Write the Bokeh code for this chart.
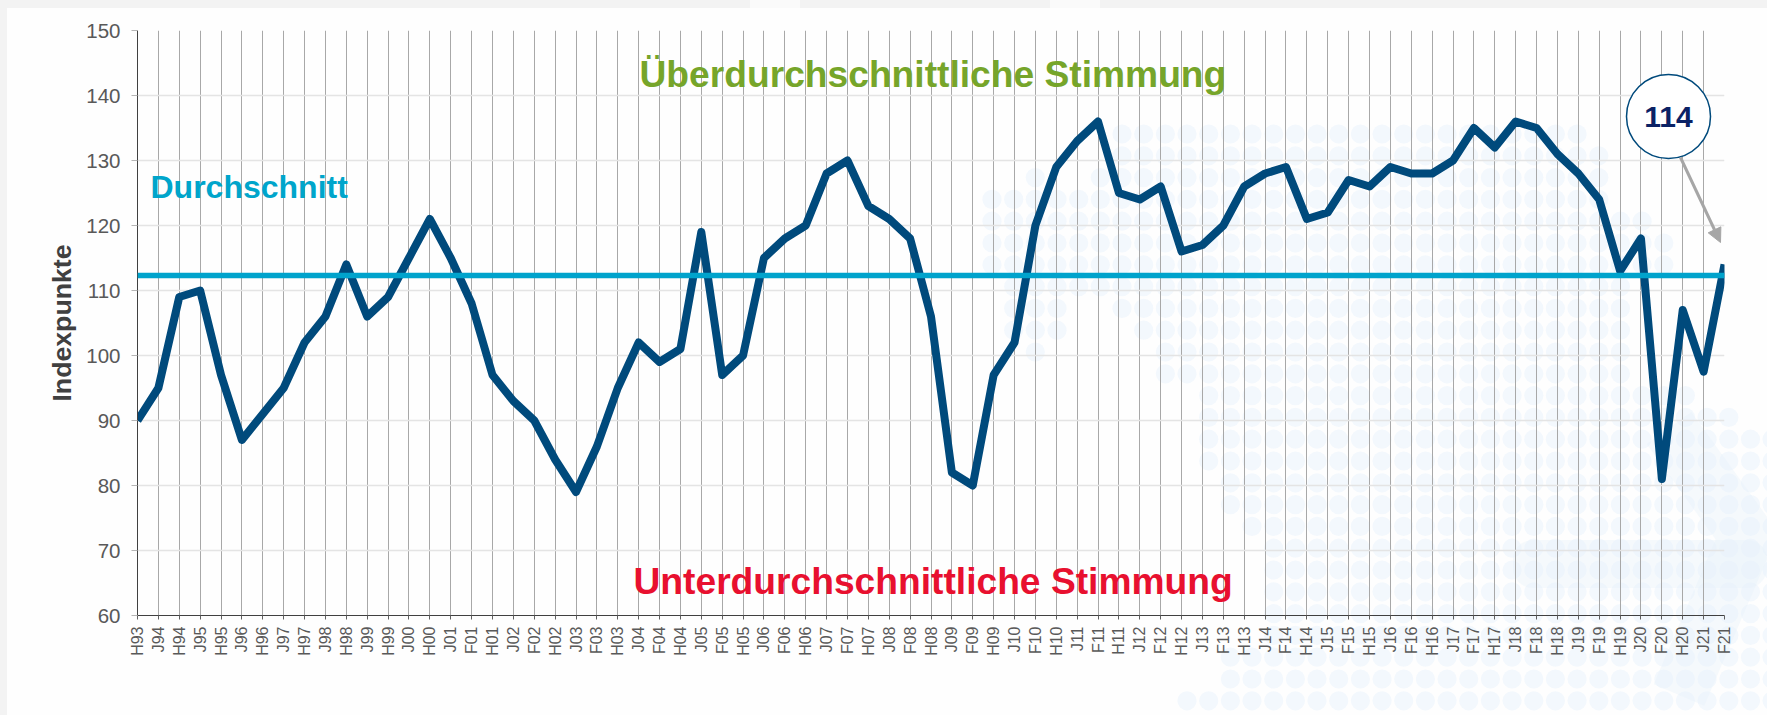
import base64
from bokeh.embed import file_html
from bokeh.models import Arrow, FixedTicker, Label, NormalHead, Range1d, Span
from bokeh.plotting import figure
from bokeh.resources import INLINE

periods = ["H93","J94","H94","J95","H95","J96","H96","J97","H97","J98","H98","J99","H99","J00","H00",
           "J01","F01","H01","J02","F02","H02","J03","F03","H03","J04","F04","H04","J05","F05","H05",
           "J06","F06","H06","J07","F07","H07","J08","F08","H08","J09","F09","H09","J10","F10","H10",
           "J11","F11","H11","J12","F12","H12","J13","F13","H13","J14","F14","H14","J15","F15","H15",
           "J16","F16","H16","J17","F17","H17","J18","F18","H18","J19","F19","H19","J20","F20","H20",
           "J21","F21"]
index_values = [90,95,109,110,97,87,91,95,102,106,114,106,109,115,121,
                115,108,97,93,90,84,79,86,95,102,99,101,119,97,100,
                115,118,120,128,130,123,121,118,106,82,80,97,102,120,129,
                133,136,125,124,126,116,117,120,126,128,129,121,122,127,126,
                129,128,128,130,135,132,136,135,131,128,124,113,118,81,107,
                97.5,114]
average_value = 112.3
latest_value = "114"
y_ticks = [60,70,80,90,100,110,120,130,140,150]

# page-background watermark: dot rows (start column, end column)
watermark_rows = [[(6,27)],[(6,28)],[(2,2),(5,28)],[(0,28)],[(0,30)],[(0,31)],[(0,31)],[(1,29)],
                  [(1,3),(6,29)],[(1,3),(7,29)],[(2,2),(8,29)],[(8,29)],[(10,32)],[(10,34)],
                  [(10,36)],[(10,36)],[(11,36)],[(11,36)],[(12,36)],[(13,36)],[(13,36)],[(13,36)],
                  [(13,36)],[(13,36)],[(11,36)],[(11,36)],[(9,36)]]

def background_svg():
    parts = ['<svg xmlns="http://www.w3.org/2000/svg" width="1767" height="730">',
             '<rect width="1767" height="730" fill="#fefefe"/>',
             '<rect width="1767" height="8" fill="#f3f3f3"/>',
             '<rect x="750" width="50" height="8" fill="#fafafa"/>',
             '<rect x="1050" width="50" height="8" fill="#fafafa"/>',
             '<rect width="7" height="730" fill="#f3f3f3"/>']
    for r, spans in enumerate(watermark_rows):
        for a, b in spans:
            for c in range(a, b + 1):
                parts.append(f'<circle cx="{992+21.67*c:.1f}" cy="{134+21.8*r:.1f}" r="9.6" fill="#f3f8fd"/>')
    parts.append('<path d="M1669 428 L1747 536 L1679 695" fill="none" stroke="#e6f0f9" stroke-opacity=".35" stroke-width="55" stroke-linejoin="round"/>')
    parts.append('<rect x="1513" y="540" width="254" height="48" rx="20" fill="#e6f0f9" fill-opacity=".35"/>')
    parts.append('</svg>')
    return base64.b64encode("".join(parts).encode()).decode()

xs = list(range(len(periods)))
p = figure(width=1751, height=699, output_backend="svg", toolbar_location=None,
           x_range=Range1d(0, len(periods) - 1), y_range=Range1d(60, 150),
           min_border_left=129, min_border_right=35, min_border_top=22, min_border_bottom=92)
p.background_fill_color = None
p.border_fill_color = None
p.outline_line_color = None

p.xgrid.ticker = FixedTicker(ticks=xs)
p.xgrid.grid_line_color = "#a8a8a8"
p.xgrid.grid_line_width = 1
p.ygrid.ticker = FixedTicker(ticks=y_ticks)
p.ygrid.grid_line_color = "#e4e4e4"
p.ygrid.grid_line_width = 1.5

p.xaxis.ticker = FixedTicker(ticks=xs)
p.xaxis.major_label_overrides = dict(zip(xs, periods))
p.xaxis.major_label_orientation = 1.5708
p.xaxis.major_label_text_font = "Liberation Sans"
p.xaxis.major_label_text_font_size = "16px"
p.xaxis.major_label_text_color = "#595959"
p.xaxis.major_label_standoff = 7
p.xaxis.major_tick_in = 0
p.xaxis.major_tick_out = 4
p.xaxis.minor_tick_line_color = None
p.xaxis.axis_line_color = "#404040"
p.xaxis.major_tick_line_color = "#606060"

p.yaxis.ticker = FixedTicker(ticks=y_ticks)
p.yaxis.major_label_text_font = "Liberation Sans"
p.yaxis.major_label_text_font_size = "20.5px"
p.yaxis.major_label_text_color = "#595959"
p.yaxis.major_label_standoff = 11
p.yaxis.major_tick_in = 0
p.yaxis.major_tick_out = 6
p.yaxis.minor_tick_line_color = None
p.yaxis.axis_line_color = "#404040"
p.yaxis.major_tick_line_color = "#b5b5b5"
p.yaxis.axis_label = "Indexpunkte"
p.yaxis.axis_label_text_font = "Liberation Sans"
p.yaxis.axis_label_text_font_style = "bold"
p.yaxis.axis_label_text_font_size = "26.7px"
p.yaxis.axis_label_text_color = "#404040"
p.yaxis.axis_label_standoff = 6

p.line(xs, index_values, line_color="#004a7c", line_width=8, line_join="round")
p.add_layout(Span(location=average_value, dimension="width", line_color="#00a3cc", line_width=5.5))

px = 1587 / 76   # horizontal pixels per category
py = 6.5         # vertical pixels per index point

def add_text(text, left, baseline, size, color):
    p.add_layout(Label(x=(left - 137) / px, y=150 - (baseline - 30) / py, text=text,
                       text_font="Liberation Sans", text_font_style="bold",
                       text_font_size=size, text_color=color,
                       text_align="left", text_baseline="alphabetic"))

add_text("Überdurchschnittliche Stimmung", 639, 73, "37.2px", "#76a52a")
add_text("Unterdurchschnittliche Stimmung", 633, 580, "37.2px", "#e8102f")
add_text("Durchschnitt", 150, 186, "32px", "#00a5cb")

bx, by = (1668 - 137) / px, 150 - (116 - 30) / py
p.add_layout(Arrow(end=NormalHead(size=14, fill_color="#a6a6a6", line_color="#a6a6a6"),
                   x_start=(1680 - 137) / px, y_start=150 - (157 - 30) / py,
                   x_end=(1720 - 137) / px, y_end=150 - (242 - 30) / py,
                   line_color="#a6a6a6", line_width=3))
p.scatter([bx], [by], marker="circle", size=84, fill_color="white", line_color="#004a7c", line_width=1.5)
p.add_layout(Label(x=bx, y=by, text=latest_value, text_font="Liberation Sans", text_font_style="bold",
                   text_font_size="30px", text_color="#0b2265", text_align="center", text_baseline="middle"))

html = file_html(p, INLINE)
style = ('<style>html{background:#fefefe url("data:image/svg+xml;base64,' + background_svg()
         + '") 0 0 no-repeat;}body{margin:8px;background:transparent;}</style>')
html = html.replace("</head>", style + "</head>", 1)
open("out.html", "w").write(html)
